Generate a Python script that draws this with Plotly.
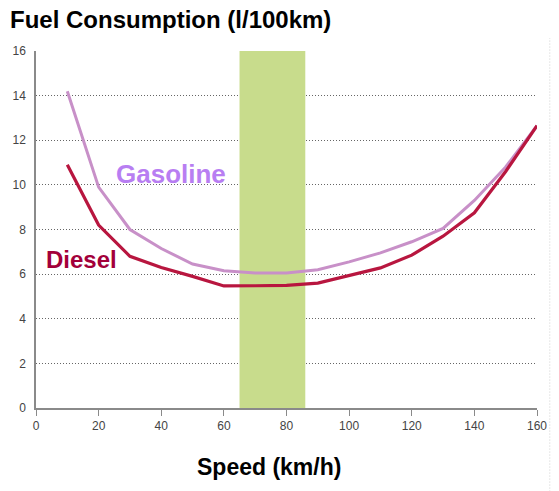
import plotly.graph_objects as go

# Fuel consumption (l/100km) by speed (km/h)
speed = [10, 20, 30, 40, 50, 60, 70, 80, 90, 100, 110, 120, 130, 140, 150, 160]
gasoline = [14.2, 9.9, 8.0, 7.15, 6.45, 6.15, 6.05, 6.05, 6.2, 6.55, 6.95, 7.45, 8.05, 9.3, 10.8, 12.65]
diesel = [10.9, 8.2, 6.8, 6.3, 5.9, 5.47, 5.48, 5.5, 5.6, 5.95, 6.28, 6.85, 7.7, 8.75, 10.6, 12.65]

# Most economical speed range (km/h)
eco_range = [65, 86]

x_ticks = [0, 20, 40, 60, 80, 100, 120, 140, 160]
y_ticks = [0, 2, 4, 6, 8, 10, 12, 14, 16]

GAS_LINE = "#c890c8"
GAS_TEXT = "#b87ef2"
DIESEL_LINE = "#b8163f"
DIESEL_TEXT = "#a3003a"
BOLD_FONT = "Liberation Sans, Arial"
TICK_FONT = "Liberation Sans Narrow, Liberation Sans, Arial"

W, H = 559, 491
L, R, T, B = 35, 15, 51, 83
plot_w, plot_h = W - L - R, H - T - B

fig = go.Figure()

fig.add_trace(go.Scatter(
    x=speed, y=gasoline, mode="lines", name="Gasoline",
    line=dict(color=GAS_LINE, width=3), hoverinfo="x+y",
))
fig.add_trace(go.Scatter(
    x=speed, y=diesel, mode="lines", name="Diesel",
    line=dict(color=DIESEL_LINE, width=3.2), hoverinfo="x+y",
))

fig.add_shape(
    type="rect", xref="x", yref="y",
    x0=eco_range[0], x1=eco_range[1], y0=0, y1=16,
    fillcolor="#c8dc8c", line=dict(width=0), layer="between",
)

# faint dotted frame edge on the right
edge_x = (557 - L) / plot_w
fig.add_shape(
    type="line", xref="paper", yref="paper",
    x0=edge_x, x1=edge_x, y0=-(H - T - plot_h) / plot_h - 0.01, y1=(T - 38) / plot_h + 1,
    line=dict(color="#cfcfcf", width=1, dash="1px,2px"),
)

fig.add_annotation(
    x=43, y=10.5, xref="x", yref="y", text="<b>Gasoline</b>",
    showarrow=False, font=dict(family=BOLD_FONT, size=26, color=GAS_TEXT),
)
fig.add_annotation(
    x=14.5, y=6.65, xref="x", yref="y", text="<b>Diesel</b>",
    showarrow=False, font=dict(family=BOLD_FONT, size=24, color=DIESEL_TEXT),
)
fig.add_annotation(
    x=(272 - L) / plot_w, y=-(467 - (T + plot_h)) / plot_h,
    xref="paper", yref="paper", xanchor="center", yanchor="middle",
    text="<b>Speed (km/h)</b>",
    showarrow=False, font=dict(family=BOLD_FONT, size=23, color="black"),
)

fig.update_layout(
    width=W, height=H,
    margin=dict(l=L, r=R, t=T, b=B),
    paper_bgcolor="white", plot_bgcolor="white",
    showlegend=False,
    title=dict(
        text="<b>Fuel Consumption (l/100km)</b>",
        x=10 / W, xanchor="left", xref="container",
        y=1 - 20 / H, yanchor="middle", yref="container",
        font=dict(family=BOLD_FONT, size=24, color="black"),
    ),
    xaxis=dict(
        range=[0, 160], tickvals=x_ticks, ticktext=[str(v) for v in x_ticks],
        showgrid=False, zeroline=False,
        showline=True, linecolor="#8a8a8a", linewidth=1.5,
        ticks="outside", ticklen=6, tickcolor="#8a8a8a", tickwidth=1,
        tickfont=dict(family=TICK_FONT, size=12, color="#444"),
    ),
    yaxis=dict(
        range=[0, 16], tickvals=y_ticks, ticktext=[str(v) for v in y_ticks],
        showgrid=True, gridcolor="#666", griddash="1px,2px", gridwidth=1,
        zeroline=False,
        showline=True, linecolor="#8a8a8a", linewidth=1.5,
        ticks="", ticklabelstandoff=6,
        tickfont=dict(family=TICK_FONT, size=12, color="#444"),
    ),
)

fig.write_html("out.html")
